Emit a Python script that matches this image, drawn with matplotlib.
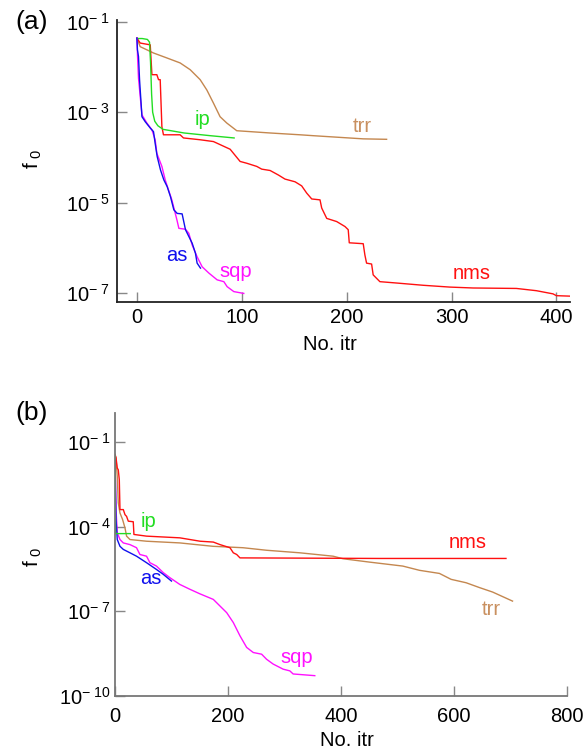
import matplotlib
matplotlib.use("Agg")
import matplotlib.pyplot as plt
import numpy as np

plt.rcParams['font.family'] = ['Liberation Sans', 'DejaVu Sans']
plt.rcParams['mathtext.fontset'] = 'custom'
plt.rcParams['mathtext.rm'] = 'Liberation Sans'
plt.rcParams['mathtext.it'] = 'Liberation Sans'
plt.rcParams['mathtext.bf'] = 'Liberation Sans'

# ---------------- Panel (a) data (x = iteration, y = log10 f0) ----------------
nms_a_x = [0, 3.1, 12.7, 14.3, 19, 20.6, 22.2, 23.8, 25.3, 41.2, 44.4, 60.3, 73, 88.9, 98.4,
           104.8, 114.3, 119, 127, 134.9, 141.2, 150.8, 157.1, 161.9, 166.7, 174.6, 176.2,
           181, 190.5, 198.4, 201.5, 202.5, 215.8, 217.4, 219, 223.8, 225.3, 231.7, 247.6,
           273, 298.4, 320.6, 361.9, 381, 396.8, 400, 412.7]
nms_a_log = [-1.36, -1.47, -1.51, -2.17, -2.17, -2.28, -2.28, -3.32, -3.50, -3.50, -3.57, -3.61,
             -3.65, -3.82, -4.09, -4.13, -4.20, -4.26, -4.29, -4.39, -4.48, -4.54, -4.63, -4.79,
             -4.92, -4.94, -5.12, -5.35, -5.42, -5.53, -5.60, -5.89, -5.91, -6.16, -6.34, -6.36,
             -6.60, -6.75, -6.78, -6.83, -6.87, -6.89, -6.90, -6.95, -7.02, -7.06, -7.07]

trr_a_x = [0, 3.1, 9.5, 15.8, 28.6, 41.2, 50.8, 60.3, 66.7, 73, 79.3, 85.7, 95.2, 107.9, 127,
           155.5, 168.2, 215.8, 238.1]
trr_a_log = [-1.36, -1.55, -1.62, -1.69, -1.80, -1.91, -2.06, -2.28, -2.51, -2.80, -3.10, -3.24,
             -3.41, -3.43, -3.46, -3.50, -3.52, -3.59, -3.60]

ip_a_x = [0, 5, 10, 12, 13, 14, 15, 17, 20, 25, 45, 70, 92.7]
ip_a_log = [-1.37, -1.37, -1.39, -1.45, -1.9, -2.6, -3.0, -3.2, -3.3, -3.38, -3.46, -3.52, -3.57]

as_a_x = [0, 0.5, 1.5, 2.5, 4.8, 7.9, 12.7, 15.8, 17.4, 19.3, 22.5, 25.7, 28.9, 32, 35.2, 38.4,
          43.1, 46.3, 49.5, 52.7, 55.8, 57.4, 60.6]
as_a_log = [-1.36, -1.62, -1.77, -2.28, -3.10, -3.21, -3.35, -3.43, -3.69, -3.98, -4.28, -4.50,
            -4.65, -4.87, -5.16, -5.24, -5.25, -5.60, -5.75, -5.90, -6.12, -6.34, -6.45]

sqp_a_x = [0, 0.6, 1.5, 4.8, 9.5, 14.3, 17.4, 19, 23.8, 27, 30.1, 33.3, 38.1, 40, 46.3, 49.5,
           52.7, 57.4, 62.2, 68.6, 76.5, 82.9, 86, 92.4, 101.9]
sqp_a_log = [-1.36, -1.77, -2.25, -3.06, -3.24, -3.39, -3.61, -3.91, -4.20, -4.50, -4.72, -4.94,
             -5.38, -5.57, -5.59, -5.68, -5.94, -6.20, -6.42, -6.56, -6.71, -6.75, -6.86, -6.97,
             -7.01]

# ---------------- Panel (b) data ----------------
nms_b_x = [0, 1.8, 4, 5.8, 7.6, 8.8, 14.7, 17.7, 20.5, 23.5, 32.3, 33.5, 55.8, 114.7, 150.6,
           174, 185.9, 203.5, 209.4, 215.4, 221.2, 468.3, 692]
nms_b_log = [-1.45, -1.56, -1.93, -1.99, -2.34, -3.40, -3.40, -3.58, -3.64, -3.81, -3.83, -4.28,
             -4.34, -4.40, -4.52, -4.55, -4.64, -4.75, -4.93, -4.99, -5.11, -5.13, -5.13]

trr_b_x = [0, 1.8, 4, 5.8, 8.8, 13.4, 17.7, 20.5, 26.5, 55.8, 114.7, 173.5, 226.5, 268.3, 327.1,
           386, 403.5, 450.7, 509.4, 538.9, 574.2, 594.9, 621.4, 644.9, 668.4, 686, 703.6]
trr_b_log = [-1.45, -1.58, -2.22, -3.16, -3.52, -3.75, -4.05, -4.34, -4.46, -4.52, -4.58, -4.70,
             -4.75, -4.84, -4.93, -5.05, -5.14, -5.26, -5.40, -5.55, -5.66, -5.87, -5.99, -6.16,
             -6.32, -6.48, -6.64]

ip_b_x = [0, 0.5, 1.0, 27]
ip_b_log = [-1.5, -3.0, -4.25, -4.25]

as_b_x = [0, 1.8, 4, 8.8, 14.7, 26.5, 38.1, 55.8, 73.4, 85.3, 99.9]
as_b_log = [-1.64, -3.75, -4.46, -4.70, -4.81, -4.93, -5.05, -5.28, -5.52, -5.69, -5.93]

sqp_b_x = [0, 1.8, 4, 8.8, 14.7, 26.5, 38.1, 44.1, 55.8, 61.8, 73.4, 85.3, 97.1, 114.7, 132.4,
           150, 174, 197.7, 209.4, 221.2, 233, 244.7, 259.5, 268.3, 280, 297.6, 309.4, 315.3,
           353.6]
sqp_b_log = [-1.58, -3.40, -4.22, -4.46, -4.58, -4.64, -4.75, -4.99, -5.05, -5.28, -5.40, -5.63,
             -5.81, -6.05, -6.22, -6.38, -6.58, -7.05, -7.40, -7.87, -8.28, -8.46, -8.52, -8.70,
             -8.87, -9.05, -9.11, -9.22, -9.28]

a_xticks = [0, 100, 200, 300, 400]
a_yexp = [-1, -3, -5, -7]
b_xticks = [0, 200, 400, 600, 800]
b_yexp = [-1, -4, -7, -10]

C_RED = '#ff1010'
C_TRR = '#c4874f'
C_TRR_TXT = '#c99060'
C_GREEN = '#22dd22'
C_BLUE = '#1010ee'
C_MAG = '#ff10ff'

W, H = 584, 753
fig = plt.figure(figsize=(W / 100, H / 100), dpi=100)


def fx(px):
    return px / W


def fy(py):
    return 1 - py / H


def style_axes(ax, spine_color, xticks, yexp, xpad, ypad):
    for s in ['top', 'right']:
        ax.spines[s].set_visible(False)
    for s in ['left', 'bottom']:
        ax.spines[s].set_color(spine_color)
        ax.spines[s].set_linewidth(1.3)
    ax.set_yscale('log')
    ax.minorticks_off()
    ax.set_xticks(xticks)
    ax.set_xticklabels([str(t) for t in xticks])
    ax.set_yticks([10.0 ** e for e in yexp])
    ax.set_yticklabels([r'$\mathregular{10^{-\ %d}}$' % (-e) for e in yexp])
    ax.tick_params(axis='both', direction='in', length=7, width=1.0, color='#888888',
                   labelsize=14.5)
    ax.tick_params(axis='x', pad=xpad)
    ax.tick_params(axis='y', pad=ypad)


def lg(v):
    return [10.0 ** t for t in v]


# ---------------- Panel (a) ----------------
ax1 = fig.add_axes([fx(117), fy(302), fx(570) - fx(117), fy(20) - fy(302)])
ax1.plot(trr_a_x, lg(trr_a_log), color=C_TRR, lw=1.0)
ax1.plot(nms_a_x, lg(nms_a_log), color=C_RED, lw=1.0)
ax1.plot(ip_a_x, lg(ip_a_log), color=C_GREEN, lw=1.0)
ax1.plot(sqp_a_x, lg(sqp_a_log), color=C_MAG, lw=1.0)
ax1.plot(as_a_x, lg(as_a_log), color=C_BLUE, lw=1.0)
ax1.set_xlim(-19, 413)
ax1.set_ylim(10 ** -7.2, 10 ** -0.96)
style_axes(ax1, '#222222', a_xticks, a_yexp, 4, 5)

lab_kw = dict(ha='center', va='center', fontsize=14.5)
ax1.text(63, 10 ** -3.17, 'ip', color=C_GREEN, **lab_kw)
ax1.text(214.6, 10 ** -3.32, 'trr', color=C_TRR_TXT, **lab_kw)
ax1.text(38.4, 10 ** -6.18, 'as', color=C_BLUE, **lab_kw)
ax1.text(94.6, 10 ** -6.53, 'sqp', color=C_MAG, **lab_kw)
ax1.text(319, 10 ** -6.56, 'nms', color=C_RED, **lab_kw)

# ---------------- Panel (b) ----------------
ax2 = fig.add_axes([fx(115), fy(696), fx(567) - fx(115), fy(413) - fy(696)])
ax2.plot(trr_b_x, lg(trr_b_log), color=C_TRR, lw=1.0)
ax2.plot(nms_b_x, lg(nms_b_log), color=C_RED, lw=1.0)
ax2.plot(sqp_b_x, lg(sqp_b_log), color=C_MAG, lw=1.0)
ax2.plot(as_b_x, lg(as_b_log), color=C_BLUE, lw=1.0)
ax2.plot(ip_b_x, lg(ip_b_log), color=C_GREEN, lw=1.0)
ax2.set_xlim(0, 800)
ax2.set_ylim(1e-10, 10 ** 0.02)
style_axes(ax2, '#777777', b_xticks, b_yexp, 8, 3)

ax2.text(58.8, 10 ** -3.82, 'ip', color=C_GREEN, **lab_kw)
ax2.text(625, 10 ** -4.56, 'nms', color=C_RED, **lab_kw)
ax2.text(666, 10 ** -6.93, 'trr', color=C_TRR_TXT, **lab_kw)
ax2.text(64, 10 ** -5.84, 'as', color=C_BLUE, **lab_kw)
ax2.text(322, 10 ** -8.62, 'sqp', color=C_MAG, **lab_kw)

# ---------------- Figure texts ----------------
fig.text(fx(32), fy(22), '(a)', fontsize=19, ha='center', va='center')
fig.text(fx(32), fy(413), '(b)', fontsize=19, ha='center', va='center')
fig.text(fx(33), fy(159), r'$\mathregular{f_{\ 0}}$', fontsize=15, rotation=90,
         ha='center', va='center')
fig.text(fx(33), fy(557), r'$\mathregular{f_{\ 0}}$', fontsize=15, rotation=90,
         ha='center', va='center')
fig.text(fx(330), fy(345), 'No. itr', fontsize=14.5, ha='center', va='center')
fig.text(fx(347), fy(740), 'No. itr', fontsize=14.5, ha='center', va='center')

fig.savefig('out.png', dpi=100)
